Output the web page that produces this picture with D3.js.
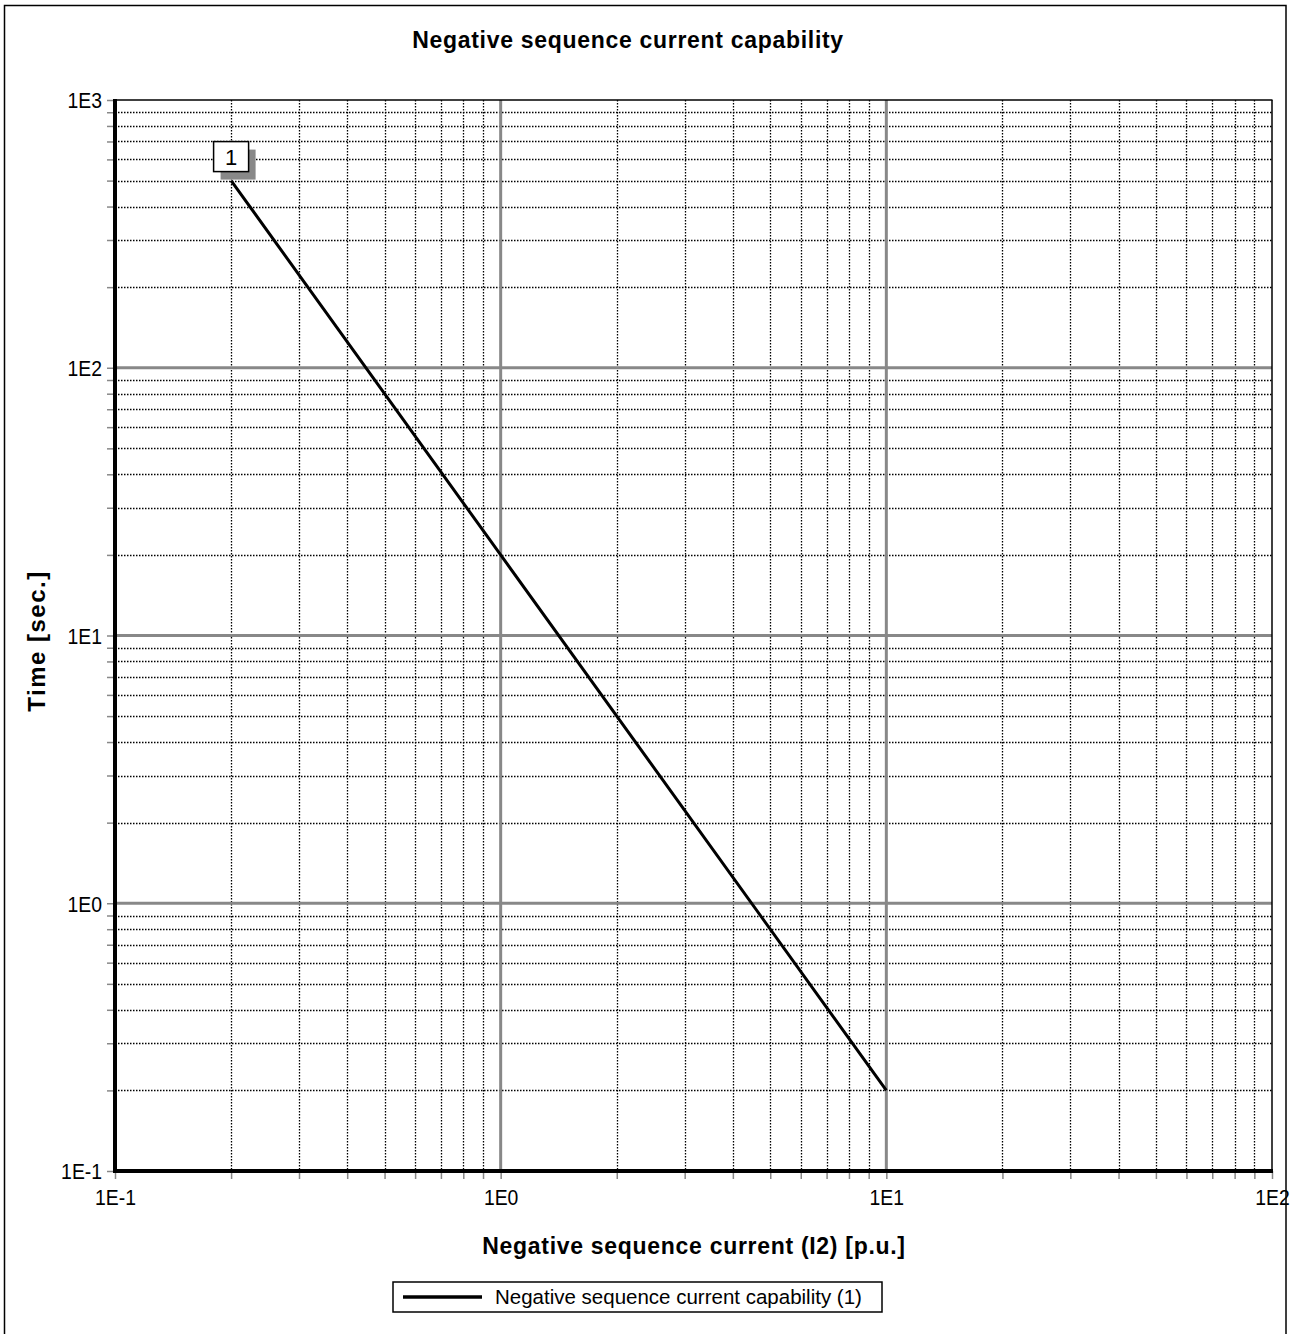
<!DOCTYPE html>
<html>
<head>
<meta charset="utf-8">
<script src="https://cdn.jsdelivr.net/npm/d3@7"></script>
<style>
  html, body { margin: 0; padding: 0; background: #fff; }
  svg { display: block; font-family: "Liberation Sans", Arial, sans-serif; }
</style>
</head>
<body>
<svg id="chart" width="1295" height="1334"></svg>
<script>
// ---- data ----
const chartTitle = "Negative sequence current capability";
const xTitle = "Negative sequence current (I2) [p.u.]";
const yTitle = "Time [sec.]";
const seriesName = "Negative sequence current capability (1)";
const curveLabel = "1";
const currentPU = [0.2, 1, 10];      // I2 [p.u.]
const timeSec = [500, 20, 0.2];      // t [s]
const xTickValues = [0.1, 1, 10, 100];
const xTickLabels = ["1E-1", "1E0", "1E1", "1E2"];
const yTickValues = [0.1, 1, 10, 100, 1000];
const yTickLabels = ["1E-1", "1E0", "1E1", "1E2", "1E3"];

// ---- layout ----
const L = 115, R = 1272, T = 100, B = 1171;
const svg = d3.select("#chart");

// outer frame
svg.append("rect").attr("x", 4.5).attr("y", 5.5).attr("width", 1281.5).attr("height", 1340)
  .attr("fill", "none").attr("stroke", "#000").attr("stroke-width", 1.5);

const x = d3.scaleLog().domain([0.1, 100]).range([L, R]);
const y = d3.scaleLog().domain([0.1, 1000]).range([B, T]);

// minor values
const minorX = [], minorY = [];
[0.1, 1, 10].forEach(d => { for (let k = 2; k <= 9; k++) minorX.push(d * k); });
[0.1, 1, 10, 100].forEach(d => { for (let k = 2; k <= 9; k++) minorY.push(d * k); });

const g = svg.append("g");

// minor grid (dotted)
g.selectAll(".mgx").data(minorX).enter().append("line")
  .attr("x1", d => Math.round(x(d)) + 0.5).attr("x2", d => Math.round(x(d)) + 0.5)
  .attr("y1", T).attr("y2", B)
  .attr("stroke", "#000").attr("stroke-width", 1.3).attr("stroke-dasharray", "1.5,1.5");
g.selectAll(".mgy").data(minorY).enter().append("line")
  .attr("y1", d => Math.round(y(d)) + 0.5).attr("y2", d => Math.round(y(d)) + 0.5)
  .attr("x1", L).attr("x2", R)
  .attr("stroke", "#000").attr("stroke-width", 1.3).attr("stroke-dasharray", "1.5,1.5");

// major grid (gray)
g.selectAll(".Mgx").data(xTickValues.slice(1, -1)).enter().append("line")
  .attr("x1", d => x(d)).attr("x2", d => x(d)).attr("y1", T).attr("y2", B)
  .attr("stroke", "#888").attr("stroke-width", 3);
g.selectAll(".Mgy").data(yTickValues.slice(1, -1)).enter().append("line")
  .attr("y1", d => y(d)).attr("y2", d => y(d)).attr("x1", L).attr("x2", R)
  .attr("stroke", "#888").attr("stroke-width", 3);

// top & right frame of plot
g.append("line").attr("x1", L).attr("x2", R + 0.5).attr("y1", T).attr("y2", T)
  .attr("stroke", "#000").attr("stroke-width", 1.5);
g.append("line").attr("x1", R).attr("x2", R).attr("y1", T).attr("y2", B)
  .attr("stroke", "#000").attr("stroke-width", 1.5);

// axes via d3
const xAxis = d3.axisBottom(x).tickValues(xTickValues.concat(minorX))
  .tickSize(8).tickFormat(d => { const i = xTickValues.indexOf(d); return i >= 0 ? xTickLabels[i] : ""; });
const yAxis = d3.axisLeft(y).tickValues(yTickValues.concat(minorY))
  .tickSize(8).tickFormat(d => { const i = yTickValues.indexOf(d); return i >= 0 ? yTickLabels[i] : ""; });

const sx = 0.88;
const gx = svg.append("g").attr("transform", `translate(0,${B})`).call(xAxis);
gx.select(".domain").remove();
gx.selectAll(".tick line").attr("stroke", "#888").attr("stroke-width", 1.5);
gx.selectAll(".tick text").attr("fill", "#000").attr("font-size", 22)
  .attr("y", 34).attr("dy", null).attr("transform", `scale(${sx},1)`)
  .attr("font-family", "'Liberation Sans', Arial, sans-serif");

const gy = svg.append("g").attr("transform", `translate(${L},0)`).call(yAxis);
gy.select(".domain").remove();
gy.selectAll(".tick line").attr("stroke", "#888").attr("stroke-width", 1.5);
gy.selectAll(".tick text").attr("fill", "#000").attr("font-size", 22)
  .attr("x", -13 / sx).attr("dy", "0.36em").attr("transform", `scale(${sx},1)`)
  .attr("font-family", "'Liberation Sans', Arial, sans-serif");

// thick axis lines
svg.append("line").attr("x1", L).attr("x2", L).attr("y1", T - 1).attr("y2", B + 2)
  .attr("stroke", "#000").attr("stroke-width", 4);
svg.append("line").attr("x1", L - 2).attr("x2", R + 1).attr("y1", B).attr("y2", B)
  .attr("stroke", "#000").attr("stroke-width", 4);

// curve
const pts = currentPU.map((c, i) => [c, timeSec[i]]);
svg.append("path").datum(pts)
  .attr("d", d3.line().x(d => x(d[0])).y(d => y(d[1])))
  .attr("fill", "none").attr("stroke", "#000").attr("stroke-width", 3);

// curve label box with shadow
const lx = x(currentPU[0]), ly = y(timeSec[0]);
const bw = 35, bh = 30;
svg.append("rect").attr("x", lx - bw / 2 + 7).attr("y", ly - 9 - bh + 8).attr("width", bw).attr("height", bh)
  .attr("fill", "#888");
svg.append("rect").attr("x", lx - bw / 2).attr("y", ly - 9 - bh).attr("width", bw).attr("height", bh)
  .attr("fill", "#fff").attr("stroke", "#000").attr("stroke-width", 1.5);
svg.append("text").attr("x", lx).attr("y", ly - 9 - bh / 2).attr("dy", "0.36em")
  .attr("text-anchor", "middle").attr("font-size", 22).text(curveLabel);

// titles
svg.append("text").attr("x", 628).attr("y", 48).attr("text-anchor", "middle")
  .attr("font-size", 23).attr("font-weight", "bold").attr("letter-spacing", 0.7).text(chartTitle);
svg.append("text").attr("x", 694).attr("y", 1254).attr("text-anchor", "middle")
  .attr("font-size", 23).attr("font-weight", "bold").attr("letter-spacing", 0.7).text(xTitle);
svg.append("text").attr("transform", "translate(45,641) rotate(-90)").attr("text-anchor", "middle")
  .attr("font-size", 24).attr("font-weight", "bold").attr("letter-spacing", 1.5).text(yTitle);

// legend
const leg = svg.append("g");
leg.append("rect").attr("x", 393).attr("y", 1282).attr("width", 489).attr("height", 30)
  .attr("fill", "#fff").attr("stroke", "#000").attr("stroke-width", 1.5);
leg.append("line").attr("x1", 403).attr("x2", 482).attr("y1", 1297).attr("y2", 1297)
  .attr("stroke", "#000").attr("stroke-width", 3.5);
leg.append("text").attr("x", 495).attr("y", 1297).attr("dy", "0.36em")
  .attr("font-size", 20.5).text(seriesName);
</script>
</body>
</html>
